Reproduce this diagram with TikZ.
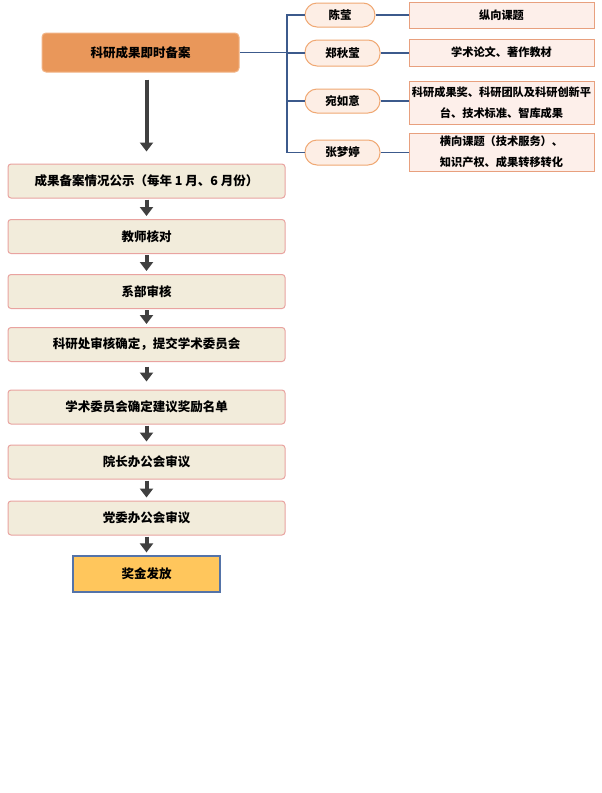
\documentclass[tikz,border=0pt]{standalone}
\usepackage{fontspec}
\setmainfont{Noto Sans CJK SC}
\usetikzlibrary{arrows.meta}

\definecolor{topfill}{HTML}{E9975A}
\definecolor{topdraw}{HTML}{F2B486}
\definecolor{stepfill}{HTML}{F2ECDB}
\definecolor{stepdraw}{HTML}{E9A3A0}
\definecolor{pillfill}{HTML}{FDEEE5}
\definecolor{pilldraw}{HTML}{F0A873}
\definecolor{itemfill}{HTML}{FDEFEA}
\definecolor{itemdraw}{HTML}{E8A07E}
\definecolor{endfill}{HTML}{FFC65C}
\definecolor{enddraw}{HTML}{5473A8}
\definecolor{linkcol}{HTML}{3C5A8C}
\definecolor{arrowcol}{HTML}{404040}

\begin{document}
\begin{tikzpicture}[x=1pt,y=-1pt]

\def\colx{146.5}
\def\colw{277}
\def\colh{34}
\def\pillx{342.5}
\def\itemx{501.5}
\def\busx{287}

\tikzset{flowbox/.style = {draw=stepdraw, fill=stepfill, line width=1pt, rounded corners=3pt,
                           minimum width=\colw pt, minimum height=\colh pt, inner sep=0pt,
                           font=\fontsize{12.5}{15}\selectfont\bfseries},
         pill/.style = {draw=pilldraw, fill=pillfill, line width=1pt, rounded corners=12pt,
                        minimum width=75pt, minimum height=25pt, inner sep=0pt,
                        font=\fontsize{11.5}{14}\selectfont\bfseries},
         itembox/.style = {draw=itemdraw, fill=itemfill, line width=1pt,
                           minimum width=185pt, inner sep=0pt, align=center,
                           font=\fontsize{11.2}{21}\selectfont\bfseries},
         link/.style = {draw=linkcol, line width=1.2pt},
         flowarrow/.style = {draw=arrowcol, line width=4pt, -{Triangle[width=13pt,length=9pt]}}}

\useasboundingbox[fill=white] (0,0) rectangle (602,793);

% top box
\node[draw=topdraw, fill=topfill, line width=1pt, rounded corners=4pt, minimum width=197pt,
      minimum height=39pt, inner sep=0pt, font=\fontsize{12.5}{15}\selectfont\bfseries]
      (S0) at (140.5,52.5) {科研成果即时备案};

% steps
\node[flowbox] (S1) at (\colx,181)   {成果备案情况公示（每年 1 月、6 月份）};
\node[flowbox] (S2) at (\colx,236.5) {教师核对};
\node[flowbox] (S3) at (\colx,291.5) {系部审核};
\node[flowbox] (S4) at (\colx,344.5) {科研处审核确定，提交学术委员会};
\node[flowbox] (S5) at (\colx,407)   {学术委员会确定建议奖励名单};
\node[flowbox] (S6) at (\colx,462)   {院长办公会审议};
\node[flowbox] (S7) at (\colx,518)   {党委办公会审议};
\node[draw=enddraw, fill=endfill, line width=1.2pt, minimum width=147pt, minimum height=36pt,
      inner sep=0pt, font=\fontsize{12.5}{15}\selectfont\bfseries]
      (S8) at (\colx,574) {奖金发放};

% arrows
\draw[flowarrow, shorten <=7pt, shorten >=12pt] (S0.south -| S1.north) -- (S1.north);
\foreach \i/\j in {1/2,2/3,3/4,5/6,6/7,7/8}
  \draw[flowarrow, shorten <=1pt, shorten >=3pt] (S\i) -- (S\j);
\draw[flowarrow, shorten <=4.5pt, shorten >=8pt] (S4) -- (S5);

% people
\node[pill, minimum width=70pt, minimum height=24pt] (P1) at (340,15) {陈莹};
\node[pill, minimum height=26pt] (P2) at (\pillx,53)    {郑秋莹};
\node[pill, minimum height=24pt] (P3) at (\pillx,101)   {宛如意};
\node[pill] (P4) at (\pillx,152.5) {张梦婷};

% items
\node[itembox, minimum height=26pt] (T1) at (\itemx,15)    {纵向课题};
\node[itembox, minimum height=27pt] (T2) at (\itemx,52.5)  {学术论文、著作教材};
\node[itembox, minimum height=43pt] (T3) at (\itemx,102.5) {科研成果奖、科研团队及科研创新平\\台、技术标准、智库成果};
\node[itembox, minimum height=38pt] (T4) at (\itemx,152)   {横向课题（技术服务）、\\知识产权、成果转移转化};

% links
\coordinate (J) at (\busx,52.5);
\draw[link] (S0.east) -- (J);
\foreach \k in {1,...,4}{
  \draw[link] (J) |- (P\k.west);
  \draw[link] (P\k.east) -- (T\k.west |- P\k.east);
}

\end{tikzpicture}
\end{document}
